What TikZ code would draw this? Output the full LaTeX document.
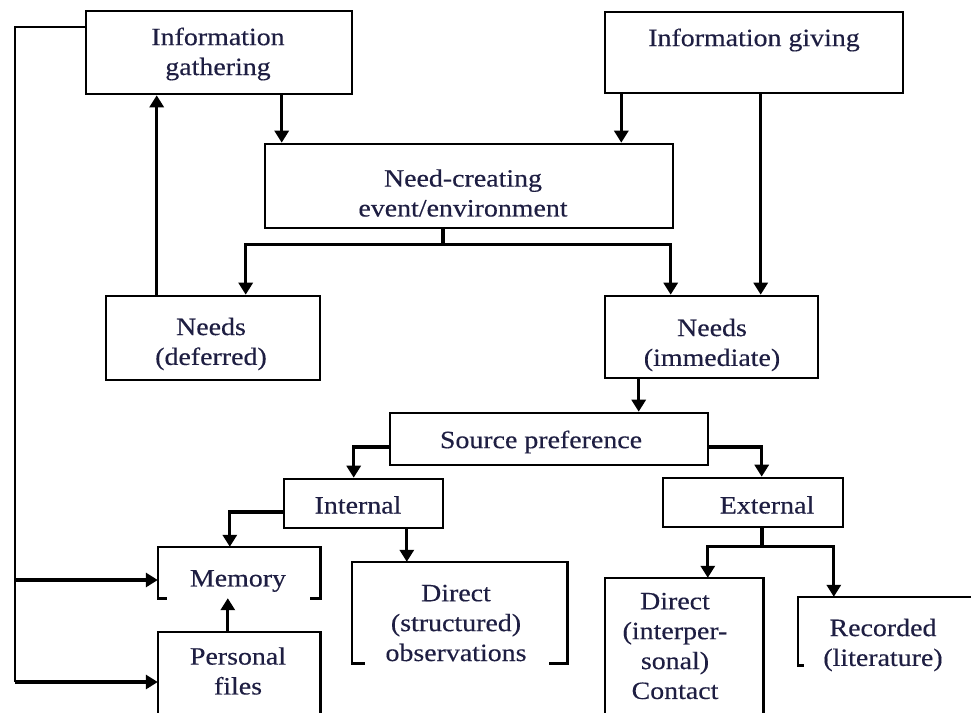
\documentclass[tikz,border=0pt]{standalone}
\usepackage{fontspec}
\setmainfont{Liberation Serif}[FakeStretch=1.12,FakeBold=0.35]
\usetikzlibrary{arrows.meta,calc}
\definecolor{ink}{RGB}{30,30,66}
\begin{document}
\begin{tikzpicture}[x=1bp,y=-1bp,
  box/.style 2 args={draw,line width=2.6bp,inner sep=0pt,minimum width=#1bp,minimum height=#2bp},
  shell/.style 2 args={inner sep=0pt,minimum width=#1bp,minimum height=#2bp},
  edge/.style={line width=2.6bp},
  txt/.style={text=ink,align=center,inner sep=0pt,font=\fontsize{25}{30}\selectfont},
  conn/.style={line width=3.2bp},
  rail/.style={line width=2.6bp},
  arr/.style={line width=3.2bp,-{Triangle[width=14bp,length=12bp]}}]
\fill[white] (0,0) rectangle (971,713);
\useasboundingbox (0,0) rectangle (971,713);

% closed boxes
\node[box={266}{83}]  (gather)    at (219,52.5) {};
\node[box={298}{81}]  (giving)    at (754,52.5) {};
\node[box={408}{84}]  (nce)       at (469,186) {};
\node[box={214}{84}]  (deferred)  at (213,338) {};
\node[box={213}{82}]  (immediate) at (711.5,337) {};
\node[box={318}{52}]  (source)    at (549,439) {};
\node[box={159}{49}]  (internal)  at (363.5,503.5) {};
\node[box={180}{49}]  (external)  at (753,502.5) {};

% open boxes (frames drawn below)
\node[shell={162}{51}]  (memory)   at (239,572.5) {};
\node[shell={162}{88}]  (files)    at (239,676) {};
\node[shell={215}{101}] (struct)   at (459.5,612.5) {};
\node[shell={158}{142}] (inter)    at (684,649) {};
\node[shell={178}{68}]  (recorded) at (887,631) {};

\draw[edge] ($(memory.south west)+(9,0)$) -- (memory.south west) -- (memory.north west)
  -- (memory.north east) -- (memory.south east) -- ++(-10,0);
\draw[edge] (files.south west) -- (files.north west) -- (files.north east) -- (files.south east);
\draw[edge] ($(struct.south west)+(13,0)$) -- (struct.south west) -- (struct.north west)
  -- (struct.north east) -- (struct.south east) -- ++(-18,0);
\draw[edge] (inter.south west) -- (inter.north west) -- (inter.north east) -- (inter.south east);
\draw[edge] ($(recorded.south west)+(6,0)$) -- (recorded.south west) -- (recorded.north west)
  -- (recorded.north east);

% labels
\node[txt] (gatherT)    at (218,54)  {Information\\gathering};
\node[txt] (givingT)    at (754,40)  {Information giving};
\node[txt] (nceT)       at (463,193) {Need-creating\\event/environment};
\node[txt] (deferredT)  at (211,344) {Needs\\(deferred)};
\node[txt] (immediateT) at (712,345) {Needs\\(immediate)};
\node[txt] (sourceT)    at (541,442) {Source preference};
\node[txt] (internalT)  at (358,505) {Internal};
\node[txt] (externalT)  at (767,505) {External};
\node[txt] (memoryT)    at (238,581) {Memory};
\node[txt] (filesT)     at (238,671) {Personal\\files};
\node[txt] (structT)    at (456,623) {Direct\\(structured)\\observations};
\node[txt] (interT)     at (675,646) {Direct\\(interper-\\sonal)\\Contact};
\node[txt] (recordedT)  at (883,645) {Recorded\\(literature)};

% return rail on the left
\coordinate (railmem)   at (15,580);
\coordinate (railfiles) at (15,682);
\draw[rail] ($(gather.west)+(0,-25.5)$) -| (railfiles);
\draw[arr] (railmem) -- (railmem -| memory.west);
\draw[arr] (railfiles) -- (railfiles -| files.west);

% top part
\coordinate (upx) at ($(deferred.north west)+(52,0)$);
\draw[arr] (upx) -- (upx |- gather.south);
\coordinate (t1) at ($(nce.north west)+(18,0)$);
\draw[arr] (t1 |- gather.south) -- (t1);
\coordinate (t2) at ($(nce.north east)+(-53,0)$);
\draw[arr] (t2 |- giving.south) -- (t2);
\coordinate (t3) at ($(immediate.north west)+(157,0)$);
\draw[arr] (t3 |- giving.south) -- (t3);

% split below the need-creating event
\coordinate (split) at ($(nce.south)+(-26,15)$);
\draw[conn] (split |- nce.south) -- (split);
\coordinate (d1) at ($(deferred.north west)+(141,0)$);
\coordinate (d2) at ($(immediate.north west)+(67,0)$);
\draw[arr] (split) -| (d1);
\draw[arr] (split) -| (d2);

% source preference
\coordinate (s0) at ($(source.north west)+(250,0)$);
\draw[arr] (s0 |- immediate.south) -- (s0);
\coordinate (sr) at ($(source.east)+(0,8)$);
\coordinate (e1) at ($(external.north west)+(100,0)$);
\draw[arr] (sr) -| (e1);
\coordinate (sl) at ($(source.west)+(0,8)$);
\coordinate (i1) at ($(internal.north west)+(71,0)$);
\draw[arr] (sl) -| (i1);

% internal sources
\coordinate (il) at ($(internal.west)+(0,8.5)$);
\coordinate (m1) at ($(memory.north west)+(72,0)$);
\draw[arr] (il) -| (m1);
\coordinate (i2) at ($(struct.north west)+(55,0)$);
\draw[arr] (i2 |- internal.south) -- (i2);
\coordinate (f1) at ($(files.north west)+(70,0)$);
\draw[arr] (f1) -- (f1 |- memory.south);

% external sources
\coordinate (xsplit) at ($(external.south)+(9,18)$);
\draw[conn] (xsplit |- external.south) -- (xsplit);
\coordinate (x1) at ($(inter.north west)+(103,0)$);
\coordinate (x2) at ($(recorded.north west)+(36,0)$);
\draw[arr] (xsplit) -| (x1);
\draw[arr] (xsplit) -| (x2);
\end{tikzpicture}
\end{document}
